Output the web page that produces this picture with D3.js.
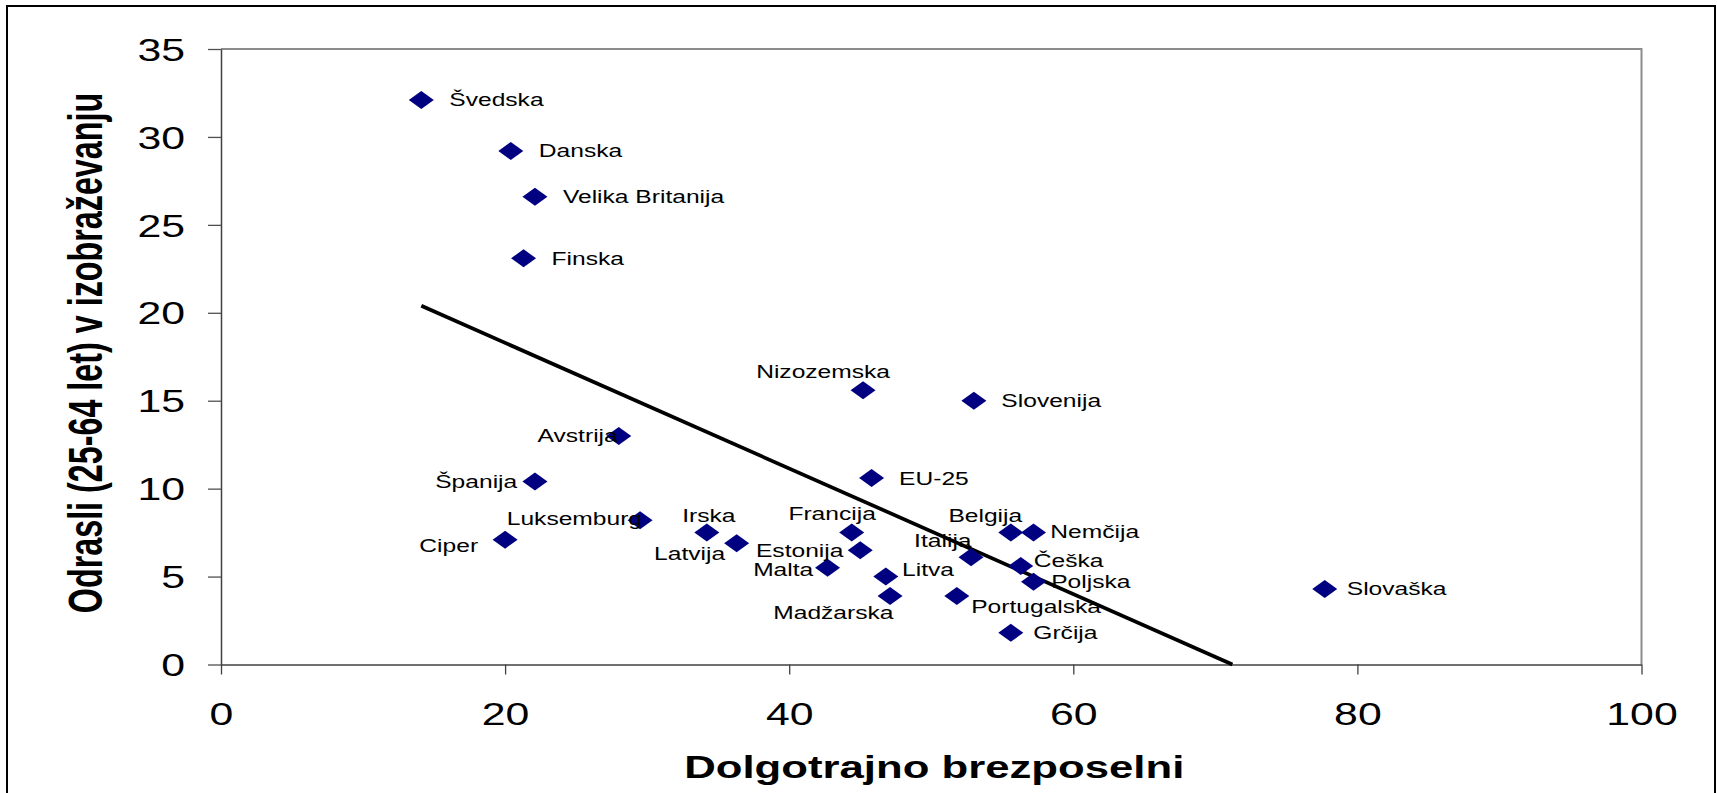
<!DOCTYPE html>
<html>
<head>
<meta charset="utf-8">
<script src="https://cdn.jsdelivr.net/npm/d3@7"></script>
<style>
  html, body { margin: 0; padding: 0; background: #fff; }
  svg { display: block; }
  text { font-family: "Liberation Sans", Arial, sans-serif; fill: #000; }
</style>
</head>
<body>
<svg id="chart" width="1717" height="793"></svg>
<script>
// ---- data ----
const categories = ["Švedska","Danska","Velika Britanija","Finska","Nizozemska","Slovenija","Avstrija","Španija","EU-25","Luksemburg","Ciper","Irska","Latvija","Francija","Estonija","Malta","Litva","Madžarska","Portugalska","Italija","Belgija","Nemčija","Češka","Poljska","Grčija","Slovaška"];
const longTermUnemployed = [14.1,20.4,22.1,21.3,45.2,53.0,28.0,22.1,45.8,29.5,20.0,34.2,36.3,44.4,45.0,42.7,46.8,47.1,51.8,52.8,55.6,57.2,56.3,57.2,55.6,77.7];
const adultsInEducation = [32.1,29.2,26.6,23.1,15.6,15.0,13.0,10.4,10.6,8.2,7.1,7.5,6.9,7.5,6.5,5.5,5.0,3.9,3.9,6.1,7.5,7.5,5.6,4.7,1.8,4.3];
const trendX = [14.1, 71.2];
const trendY = [20.4, 0];
const xTicks = [0,20,40,60,80,100];
const yTicks = [0,5,10,15,20,25,30,35];
const xTitle = "Dolgotrajno brezposelni";
const yTitle = "Odrasli (25-64 let) v izobraževanju";

// ---- label placement (anchor, dx, dy in px) ----
const labelPlacement = [
  ["start",28,0],["start",28,0],["start",28,0],["start",28,0],
  ["middle",-40,-19],["start",27.5,0],["end",-1,0],["end",-17.7,0],
  ["start",27.5,0],["end",2,-1.5],["end",-27,5.7],["middle",2,-17.5],
  ["end",-11.5,10],["middle",-19.6,-19.2],["end",-16.8,0],["end",-14.3,1.7],
  ["start",16.3,-7.5],["middle",-56.7,16.6],["start",14.4,10.3],["end",0.5,-16.7],
  ["middle",-25.5,-17.2],["start",16.8,-1.3],["start",13,-5.3],["start",17.7,0],
  ["start",22.5,0],["start",22,0]
];

const svg = d3.select("#chart");
const x = d3.scaleLinear().domain([0,100]).range([221, 1641.5]);
const y = d3.scaleLinear().domain([0,35]).range([664.5, 49]);

const STICK = 1.38, SLAB = 1.33, STITLE = 1.41;
const fsTick = 31, fsLab = 18.5, fsTitle = 31;

// outer frame
svg.append("rect").attr("x",7).attr("y",6).attr("width",1708).attr("height",820)
  .attr("fill","none").attr("stroke","#000").attr("stroke-width",2);

// plot area border (top & right, grey)
svg.append("path")
  .attr("d", `M${x(0)},${y(35)}H${x(100)}V${y(0)}`)
  .attr("fill","none").attr("stroke","#8c8c8c").attr("stroke-width",2);

// y axis
const yAxis = svg.append("g").attr("transform",`translate(${x(0)},0)`)
  .call(d3.axisLeft(y).tickValues(yTicks).tickSize(13).tickSizeOuter(0));
yAxis.select(".domain").attr("stroke","#404040").attr("stroke-width",1.5);
yAxis.selectAll(".tick line").attr("stroke","#505050").attr("stroke-width",1.3);
yAxis.selectAll(".tick text")
  .attr("x",null).attr("dy",null)
  .attr("font-size",fsTick).attr("font-family","Liberation Sans, Arial, sans-serif")
  .attr("text-anchor","end")
  .attr("transform",`translate(-36,${0.36*fsTick}) scale(${STICK},1)`);

// x axis
const xAxis = svg.append("g").attr("transform",`translate(0,${y(0)})`)
  .call(d3.axisBottom(x).tickValues(xTicks).tickSize(10).tickSizeOuter(0));
xAxis.select(".domain").attr("stroke","#404040").attr("stroke-width",1.5);
xAxis.selectAll(".tick line").attr("stroke","#404040").attr("stroke-width",1.3);
xAxis.selectAll(".tick text")
  .attr("y",null).attr("dy",null)
  .attr("font-size",fsTick).attr("font-family","Liberation Sans, Arial, sans-serif")
  .attr("text-anchor","middle")
  .attr("transform",`translate(0,${49.5 + 0.36*fsTick}) scale(${STICK},1)`);

// trend line
const line = d3.line().x(d=>x(d[0])).y(d=>y(d[1]));
svg.append("path")
  .datum(trendX.map((v,i)=>[v,trendY[i]]))
  .attr("d", line).attr("fill","none").attr("stroke","#000").attr("stroke-width",3.7);

// points
const pts = categories.map((c,i)=>({name:c, xv:longTermUnemployed[i], yv:adultsInEducation[i], p:labelPlacement[i]}));
svg.append("g").selectAll("path").data(pts).join("path")
  .attr("d","M0,-9L12.5,0L0,9L-12.5,0Z")
  .attr("transform",d=>`translate(${x(d.xv)},${y(d.yv)})`)
  .attr("fill","#000080");

// labels
svg.append("g").selectAll("text").data(pts).join("text")
  .attr("font-size",fsLab)
  .attr("text-anchor",d=>d.p[0])
  .attr("transform",d=>`translate(${x(d.xv)+d.p[1]},${y(d.yv)+d.p[2]+0.35*fsLab}) scale(${SLAB},1)`)
  .text(d=>d.name);

// axis titles
svg.append("text")
  .attr("font-size",fsTitle).attr("font-weight","bold").attr("text-anchor","middle")
  .attr("transform",`translate(${(x(0)+x(100))/2 + 3},${767 + 0.36*fsTitle}) scale(${STITLE},1)`)
  .text(xTitle);

svg.append("text")
  .attr("font-size",32.3).attr("font-weight","bold").attr("text-anchor","middle")
  .attr("transform",`translate(101.5,353) scale(1.5,1) rotate(-90)`)
  .text(yTitle);
</script>
</body>
</html>
